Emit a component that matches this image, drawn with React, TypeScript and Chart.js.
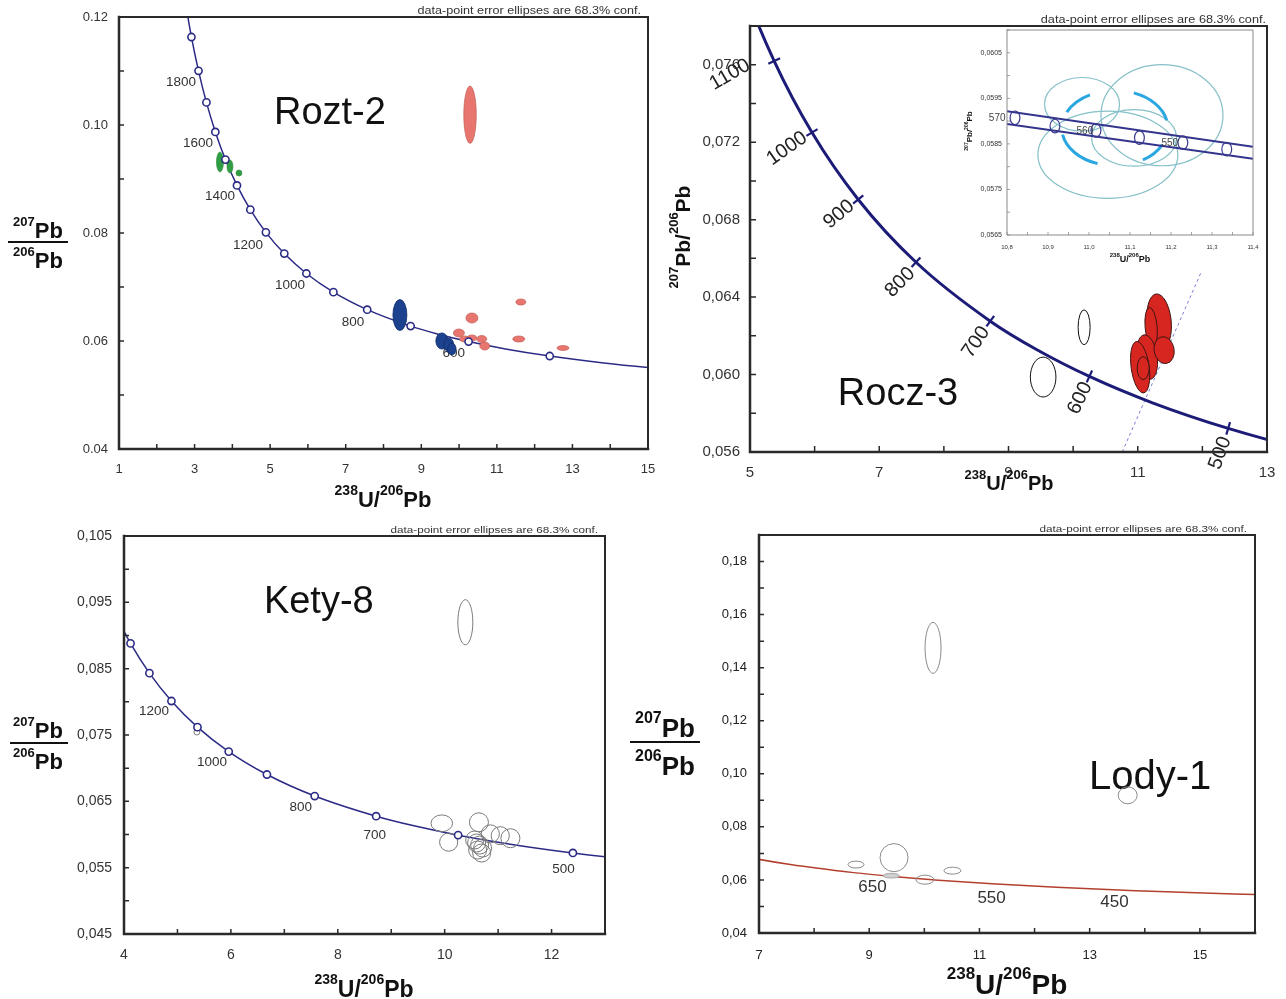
import React, { useEffect, useRef } from 'react';
import { Chart, registerables } from 'chart.js';

Chart.register(...registerables);

const SANS = '"Liberation Sans", Arial, Helvetica, sans-serif';
const NARROW = '"Liberation Sans Narrow", "Liberation Sans", Arial, sans-serif';
const NAVY = '#2b2b86';
const NAVY_DARK = '#1c1c78';
const CONF_TEXT = 'data-point error ellipses are 68.3% conf.';

/* ---------- Concordia reference points (age in Ma) ---------- */
const concAges = [2000, 1900, 1800, 1700, 1600, 1500, 1400, 1300, 1200, 1100, 1000, 900, 800, 700, 650, 600, 550, 500, 450, 400, 380];
const concX = [2.749, 2.9174, 3.1046, 3.3139, 3.5497, 3.817, 4.1227, 4.4756, 4.8875, 5.3746, 5.9593, 6.6743, 7.5684, 8.7182, 9.426, 10.2518, 11.2279, 12.3993, 13.8312, 15.6212, 16.469];
const concY = [0.122987, 0.116293, 0.110036, 0.104186, 0.098715, 0.093597, 0.088807, 0.084323, 0.080122, 0.076187, 0.0725, 0.069042, 0.065799, 0.062756, 0.061306, 0.059901, 0.058539, 0.057219, 0.05594, 0.0547, 0.054216];

/* ---------- Rozt-2 ---------- */
const rozXTicks = ['1', '3', '5', '7', '9', '11', '13', '15'];
const rozYTicks = ['0.04', '0.06', '0.08', '0.10', '0.12'];
const rozMarkerAges = [1900, 1800, 1700, 1600, 1500, 1400, 1300, 1200, 1100, 1000, 900, 800, 700, 600, 500];
const rozAgeText = ['1800', '1600', '1400', '1200', '1000', '800', '600'];
const rozAgeTextX = [2.64, 3.09, 3.672, 4.413, 5.524, 7.19, 9.862];
const rozAgeTextY = [0.10796, 0.0967, 0.08685, 0.07778, 0.07037, 0.06352, 0.05778];
const rozSalmon = [
  { x: 10.29, y: 0.1019, rx: 0.165, ry: 0.0053 },
  { x: 11.635, y: 0.06722, rx: 0.132, ry: 0.00056 },
  { x: 10.34, y: 0.06426, rx: 0.159, ry: 0.00093 },
  { x: 9.995, y: 0.06148, rx: 0.146, ry: 0.00074 },
  { x: 10.15, y: 0.06037, rx: 0.132, ry: 0.00056 },
  { x: 10.34, y: 0.06056, rx: 0.132, ry: 0.00056 },
  { x: 10.6, y: 0.06037, rx: 0.132, ry: 0.00065 },
  { x: 10.68, y: 0.05907, rx: 0.132, ry: 0.00074 },
  { x: 11.58, y: 0.06037, rx: 0.159, ry: 0.00056 },
  { x: 12.75, y: 0.0587, rx: 0.159, ry: 0.00046 },
];
const rozGreen = [
  { x: 3.672, y: 0.09315, rx: 0.093, ry: 0.00185 },
  { x: 3.937, y: 0.09231, rx: 0.079, ry: 0.0012 },
  { x: 4.175, y: 0.09111, rx: 0.079, ry: 0.00056 },
];
const rozBlue = [
  { x: 8.434, y: 0.06481, rx: 0.185, ry: 0.00287 },
  { x: 9.545, y: 0.06, rx: 0.16, ry: 0.0015 },
  { x: 9.73, y: 0.05926, rx: 0.13, ry: 0.0013 },
  { x: 9.81, y: 0.05852, rx: 0.11, ry: 0.0011 },
];

/* ---------- Rocz-3 ---------- */
const roczXTicks = ['5', '7', '9', '11', '13'];
const roczYTicks = ['0,056', '0,060', '0,064', '0,068', '0,072', '0,076'];
const roczTickAges = [1100, 1000, 900, 800, 700, 600, 500];
const roczAgeText = ['1100', '1000', '900', '800', '700', '600', '500'];
const roczAgeTextX = [4.69, 5.573, 6.378, 7.322, 8.498, 10.108, 12.276];
const roczAgeTextY = [0.075485, 0.07167, 0.06827, 0.06476, 0.06167, 0.05878, 0.05595];
const roczAgeTextRot = [-30, -35, -40, -45, -55, -65, -70];
const roczDashX = [10.76, 11.98];
const roczDashY = [0.056, 0.06528];
const roczOpen = [
  { x: 9.536, y: 0.05987, rx: 0.198, ry: 0.00103 },
  { x: 10.17, y: 0.06244, rx: 0.093, ry: 0.0009 },
];
const roczRed = [
  { x: 11.331, y: 0.06275, rx: 0.186, ry: 0.00142, rot: -6 },
  { x: 11.207, y: 0.06244, rx: 0.093, ry: 0.00103, rot: -5 },
  { x: 11.146, y: 0.0609, rx: 0.155, ry: 0.00116, rot: -8 },
  { x: 11.037, y: 0.06038, rx: 0.139, ry: 0.00134, rot: -8 },
  { x: 11.408, y: 0.06126, rx: 0.155, ry: 0.0007, rot: -10 },
  { x: 11.084, y: 0.06033, rx: 0.093, ry: 0.00059 },
];

/* ---------- Rocz-3 inset ---------- */
const insetXTicks = ['10,8', '10,9', '11,0', '11,1', '11,2', '11,3', '11,4'];
const insetYTicks = ['0,0565', '0,0575', '0,0585', '0,0595', '0,0605'];
const insetBandX = [10.8, 11.4];
const insetUpperY = [0.059217, 0.058435];
const insetLowerY = [0.058935, 0.058174];
const insetMarkX = [10.8195, 10.917, 11.017, 11.123, 11.229, 11.336];
const insetMarkY = [0.059072, 0.058891, 0.058797, 0.058637, 0.058528, 0.058384];
const insetAgeText = ['570', '560', '550'];
const insetAgeTextX = [10.776, 10.99, 11.197];
const insetAgeTextY = [0.059065, 0.058783, 0.058522];
const insetTeal = [
  { x: 10.983, y: 0.05937, rx: 0.0915, ry: 0.000587 },
  { x: 11.178, y: 0.05913, rx: 0.1488, ry: 0.00111 },
  { x: 11.046, y: 0.058261, rx: 0.1707, ry: 0.000957 },
  { x: 11.11, y: 0.05863, rx: 0.1037, ry: 0.00062 },
];
const insetMean = [{ x: 11.063, y: 0.058848, rx: 0.1293, ry: 0.000826 }];
const insetMeanArcs = [[205, 242], [291, 348], [109, 170], [26, 58]];

/* ---------- Kety-8 ---------- */
const ketyXTicks = ['4', '6', '8', '10', '12'];
const ketyYTicks = ['0,045', '0,055', '0,065', '0,075', '0,085', '0,095', '0,105'];
const ketyMarkerAges = [1400, 1300, 1200, 1100, 1000, 900, 800, 700, 600, 500];
const ketyAgeText = ['1200', '1000', '800', '700', '500'];
const ketyAgeTextX = [4.561, 5.645, 7.308, 8.692, 12.224];
const ketyAgeTextY = [0.07862, 0.07093, 0.06414, 0.05992, 0.0548];
const ketyEllipses = [
  { x: 10.387, y: 0.092, rx: 0.14, ry: 0.0034 },
  { x: 5.364, y: 0.07545, rx: 0.056, ry: 0.00045 },
  { x: 9.946, y: 0.06169, rx: 0.202, ry: 0.00126 },
  { x: 10.075, y: 0.05885, rx: 0.17, ry: 0.00137 },
  { x: 10.641, y: 0.06184, rx: 0.178, ry: 0.00143 },
  { x: 10.854, y: 0.0601, rx: 0.17, ry: 0.00136 },
  { x: 11.04, y: 0.05982, rx: 0.17, ry: 0.00136 },
  { x: 11.23, y: 0.05944, rx: 0.178, ry: 0.00143 },
  { x: 10.561, y: 0.05917, rx: 0.168, ry: 0.00136 },
  { x: 10.654, y: 0.05841, rx: 0.168, ry: 0.00136 },
  { x: 10.617, y: 0.05766, rx: 0.168, ry: 0.00136 },
  { x: 10.71, y: 0.05796, rx: 0.168, ry: 0.00136 },
  { x: 10.692, y: 0.05721, rx: 0.168, ry: 0.00136 },
  { x: 10.598, y: 0.05872, rx: 0.168, ry: 0.00136 },
];

/* ---------- Lody-1 ---------- */
const lodyXTicks = ['7', '9', '11', '13', '15'];
const lodyYTicks = ['0,04', '0,06', '0,08', '0,10', '0,12', '0,14', '0,16', '0,18'];
const lodyAgeText = ['650', '550', '450'];
const lodyAgeTextX = [9.06, 11.22, 13.45];
const lodyAgeTextY = [0.0571, 0.053, 0.0515];
const lodyOpen = [
  { x: 10.158, y: 0.14745, rx: 0.145, ry: 0.0096 },
  { x: 13.69, y: 0.0919, rx: 0.172, ry: 0.0032 },
  { x: 9.45, y: 0.0684, rx: 0.254, ry: 0.0053 },
  { x: 8.76, y: 0.0658, rx: 0.145, ry: 0.0013 },
  { x: 10.01, y: 0.0601, rx: 0.163, ry: 0.0017 },
  { x: 10.51, y: 0.0635, rx: 0.154, ry: 0.0013 },
];
const lodyFilled = [{ x: 9.4, y: 0.0616, rx: 0.145, ry: 0.0009 }];

/* ---------- helpers ---------- */
type Pt = { x: number; y: number; age?: number };
type Note = { text: string; x: number; y: number; size: number; color?: string; rot?: number; family?: string; align?: CanvasTextAlign; base?: CanvasTextBaseline };
type Rich = { segs: [string, boolean][]; x: number; y: number; size: number; sup: number; rot?: number };
type Deco = {
  frame: string; lwLB: number; lwTR: number; tickLen: number; tickW: number; bg?: string;
  under: Note[]; over: Note[];
  conf?: { size: number; sx: number; dx: number };
  titles: Rich[]; bars: number[][];
};

const conc = (): Pt[] => concAges.map((age, i) => ({ x: concX[i], y: concY[i], age }));
const pickAges = (ages: number[]): Pt[] => ages.map((a) => { const i = concAges.indexOf(a); return { x: concX[i], y: concY[i], age: a }; });
const pts = (xs: number[], ys: number[]): Pt[] => xs.map((x, i) => ({ x, y: ys[i] }));
const notesFrom = (texts: string[], xs: number[], ys: number[], size: number, extra: Partial<Note> = {}, rots?: number[]): Note[] =>
  texts.map((text, i) => ({ text, x: xs[i], y: ys[i], size, rot: rots ? rots[i] : 0, ...extra }));

const ISO: [string, boolean][] = [['207', true], ['Pb', false]];
const ISO2: [string, boolean][] = [['206', true], ['Pb', false]];
const XT: [string, boolean][] = [['238', true], ['U/', false], ['206', true], ['Pb', false]];
const YT: [string, boolean][] = [['207', true], ['Pb/', false], ['206', true], ['Pb', false]];

function labelFor(v: number, labels: string[], step: number) {
  for (const l of labels) {
    if (Math.abs(parseFloat(l.replace(',', '.')) - v) < step * 0.01) return l;
  }
  return '';
}

function axis(min: number, max: number, step: number, labels: string[], size: number, pad: number, fit: { w?: number; h?: number }, family = SANS, color = '#333') {
  return {
    type: 'linear', min, max,
    grid: { display: false, drawTicks: false },
    border: { display: false },
    ticks: {
      stepSize: step, autoSkip: false, maxRotation: 0, minRotation: 0, padding: pad, color,
      font: { family, size },
      callback: (v: any) => labelFor(Number(v), labels, step),
    },
    afterFit: (s: any) => {
      if (fit.w !== undefined) s.width = fit.w;
      if (fit.h !== undefined) s.height = fit.h;
      s.paddingLeft = 0; s.paddingRight = 0; s.paddingTop = 0; s.paddingBottom = 0;
    },
  };
}

function drawRich(ctx: CanvasRenderingContext2D, r: Rich) {
  ctx.save();
  ctx.translate(r.x, r.y);
  if (r.rot) ctx.rotate((r.rot * Math.PI) / 180);
  ctx.fillStyle = '#111';
  ctx.textAlign = 'left';
  ctx.textBaseline = 'alphabetic';
  const fonts = r.segs.map(([, s]) => `bold ${s ? r.sup : r.size}px ${SANS}`);
  const widths = r.segs.map(([t], i) => { ctx.font = fonts[i]; return ctx.measureText(t).width; });
  const total = widths.reduce((a, b) => a + b, 0);
  let cx = -total / 2;
  r.segs.forEach(([t, s], i) => { ctx.font = fonts[i]; ctx.fillText(t, cx, s ? -r.size * 0.55 : 0); cx += widths[i]; });
  ctx.restore();
}

function drawNotes(chart: any, notes: Note[]) {
  const ctx = chart.ctx as CanvasRenderingContext2D;
  const xs = chart.scales.x, ys = chart.scales.y;
  for (const n of notes) {
    ctx.save();
    ctx.translate(xs.getPixelForValue(n.x), ys.getPixelForValue(n.y));
    if (n.rot) ctx.rotate((n.rot * Math.PI) / 180);
    ctx.font = `${n.size}px ${n.family || SANS}`;
    ctx.fillStyle = n.color || '#333';
    ctx.textAlign = n.align || 'center';
    ctx.textBaseline = n.base || 'middle';
    ctx.fillText(n.text, 0, 0);
    ctx.restore();
  }
}

function drawEllipses(chart: any, ds: any) {
  const e = ds && ds.ell;
  if (!e) return;
  const ctx = chart.ctx as CanvasRenderingContext2D;
  const a = chart.chartArea;
  const xs = chart.scales.x, ys = chart.scales.y;
  ctx.save();
  ctx.beginPath();
  ctx.rect(a.left, a.top, a.right - a.left, a.bottom - a.top);
  ctx.clip();
  for (const p of ds.data) {
    const cx = xs.getPixelForValue(p.x), cy = ys.getPixelForValue(p.y);
    const rx = Math.abs(xs.getPixelForValue(p.x + p.rx) - cx);
    const ry = Math.abs(ys.getPixelForValue(p.y + p.ry) - cy);
    const rot = ((p.rot || 0) * Math.PI) / 180;
    if (e.arcs) {
      ctx.lineWidth = e.lw; ctx.strokeStyle = e.stroke; ctx.lineCap = 'butt';
      for (const [s, t] of e.arcs) {
        ctx.beginPath();
        ctx.ellipse(cx, cy, rx, ry, rot, (s * Math.PI) / 180, (t * Math.PI) / 180);
        ctx.stroke();
      }
      continue;
    }
    ctx.beginPath();
    ctx.ellipse(cx, cy, rx, ry, rot, 0, Math.PI * 2);
    if (e.fill) { ctx.fillStyle = e.fill; ctx.fill(); }
    if (e.stroke) { ctx.lineWidth = e.lw; ctx.strokeStyle = e.stroke; ctx.stroke(); }
  }
  ctx.restore();
}

function decoPlugin(d: Deco) {
  return {
    id: 'deco',
    beforeDraw(chart: any) {
      if (!d.bg) return;
      const a = chart.chartArea; const ctx = chart.ctx;
      ctx.save(); ctx.fillStyle = d.bg; ctx.fillRect(a.left, a.top, a.right - a.left, a.bottom - a.top); ctx.restore();
    },
    beforeDatasetsDraw(chart: any) { drawNotes(chart, d.under); },
    afterDatasetDraw(chart: any, args: any) { drawEllipses(chart, chart.data.datasets[args.index]); },
    afterDatasetsDraw(chart: any) { drawNotes(chart, d.over); },
    afterDraw(chart: any) {
      const ctx = chart.ctx as CanvasRenderingContext2D;
      const a = chart.chartArea;
      const xs = chart.scales.x, ys = chart.scales.y;
      ctx.save();
      ctx.strokeStyle = d.frame;
      ctx.lineCap = 'square';
      ctx.lineWidth = d.lwTR;
      ctx.beginPath(); ctx.moveTo(a.left, a.top); ctx.lineTo(a.right, a.top); ctx.lineTo(a.right, a.bottom); ctx.stroke();
      ctx.lineWidth = d.lwLB;
      ctx.beginPath(); ctx.moveTo(a.left, a.top); ctx.lineTo(a.left, a.bottom); ctx.lineTo(a.right, a.bottom); ctx.stroke();
      ctx.lineCap = 'butt';
      ctx.lineWidth = d.tickW;
      ctx.beginPath();
      for (const t of xs.ticks) { const p = xs.getPixelForValue(t.value); ctx.moveTo(p, a.bottom); ctx.lineTo(p, a.bottom - d.tickLen); }
      for (const t of ys.ticks) { const p = ys.getPixelForValue(t.value); ctx.moveTo(a.left, p); ctx.lineTo(a.left + d.tickLen, p); }
      ctx.stroke();
      if (d.conf) {
        ctx.save();
        ctx.translate(a.right - d.conf.dx, a.top - 3);
        ctx.scale(d.conf.sx, 1);
        ctx.font = `${d.conf.size}px ${SANS}`;
        ctx.fillStyle = '#333';
        ctx.textAlign = 'right';
        ctx.textBaseline = 'alphabetic';
        ctx.fillText(CONF_TEXT, 0, 0);
        ctx.restore();
      }
      ctx.strokeStyle = '#111';
      for (const b of d.bars) { ctx.lineWidth = b[4]; ctx.beginPath(); ctx.moveTo(b[0], b[1]); ctx.lineTo(b[2], b[3]); ctx.stroke(); }
      d.titles.forEach((r) => drawRich(ctx, r));
      ctx.restore();
    },
  };
}

function cfg(x: any, y: any, pad: { top: number; right: number }, datasets: any[], deco: Deco) {
  return {
    type: 'line',
    data: { datasets },
    options: {
      responsive: false, maintainAspectRatio: false, animation: false, devicePixelRatio: 1, events: [],
      layout: { padding: { left: 0, top: pad.top, right: pad.right, bottom: 0 } },
      plugins: { legend: { display: false }, tooltip: { enabled: false }, title: { display: false } },
      scales: { x, y },
    },
    plugins: [decoPlugin(deco)],
  };
}

const curveDs = (color: string, width: number) => ({
  data: conc(), borderColor: color, borderWidth: width, pointRadius: 0, pointHoverRadius: 0,
  cubicInterpolationMode: 'monotone', fill: false,
});
const ellDs = (data: any[], ell: any) => ({ data, showLine: false, pointRadius: 0, pointHoverRadius: 0, ell });
const markerDs = (data: Pt[]) => ({
  data, showLine: false, pointRadius: 3.6, pointHoverRadius: 3.6, pointStyle: 'circle',
  pointBackgroundColor: '#ffffff', pointBorderColor: NAVY, pointBorderWidth: 1.6,
});

const tickRotation = (c: any) => {
  const p = c && c.raw;
  if (!p || p.age === undefined) return 0;
  const i = concAges.indexOf(p.age);
  const xs = c.chart.scales.x, ys = c.chart.scales.y;
  const i0 = Math.max(0, i - 1), i1 = Math.min(concAges.length - 1, i + 1);
  const dx = xs.getPixelForValue(concX[i1]) - xs.getPixelForValue(concX[i0]);
  const dy = ys.getPixelForValue(concY[i1]) - ys.getPixelForValue(concY[i0]);
  return (Math.atan2(dy, dx) * 180) / Math.PI + 90;
};

/* ---------- panel configs ---------- */
const rozConfig = () => cfg(
  axis(1, 15, 1, rozXTicks, 13, 13, { h: 66 }),
  axis(0.04, 0.12, 0.01, rozYTicks, 13, 11, { w: 119 }),
  { top: 17, right: 12 },
  [
    markerDs(pickAges(rozMarkerAges)),
    ellDs(rozBlue, { fill: '#1b418f', stroke: '#112d68', lw: 0.8 }),
    ellDs(rozGreen, { fill: '#2f9d43', stroke: '#2a8a3a', lw: 0.6 }),
    ellDs(rozSalmon, { fill: '#e8766e', stroke: '#c05e58', lw: 0.7 }),
    curveDs(NAVY, 1.5),
  ],
  {
    frame: '#2a2a2a', lwLB: 2.5, lwTR: 2, tickLen: 5, tickW: 1.5,
    under: [
      ...notesFrom(rozAgeText, rozAgeTextX, rozAgeTextY, 13.5),
      { text: 'Rozt-2', x: 6.582, y: 0.10019, size: 38, color: '#111', base: 'alphabetic' },
    ],
    over: [],
    conf: { size: 10, sx: 1.26, dx: 7 },
    titles: [
      { segs: XT, x: 383, y: 507, size: 22, sup: 14 },
      { segs: ISO, x: 38, y: 238, size: 22, sup: 13 },
      { segs: ISO2, x: 38, y: 268, size: 22, sup: 13 },
    ],
    bars: [[8, 242, 68, 242, 2]],
  },
);

const roczConfig = () => cfg(
  axis(5, 13, 1, roczXTicks, 15, 12, { h: 48 }),
  axis(0.056, 0.078, 0.002, roczYTicks, 15, 10, { w: 90 }),
  { top: 26, right: 19 },
  [
    {
      data: pickAges(roczTickAges), showLine: false, pointStyle: 'line', pointRadius: 6.5, pointHoverRadius: 6.5,
      pointBorderWidth: 2.2, pointBorderColor: NAVY_DARK, pointBackgroundColor: NAVY_DARK, pointRotation: tickRotation,
    },
    ellDs(roczRed, { fill: '#d6261f', stroke: '#3d1515', lw: 1 }),
    ellDs(roczOpen, { fill: '#ffffff', stroke: '#111111', lw: 1 }),
    curveDs(NAVY_DARK, 3),
    { data: pts(roczDashX, roczDashY), borderColor: '#7c7cd2', borderWidth: 1, borderDash: [3, 3], pointRadius: 0, pointHoverRadius: 0, fill: false },
  ],
  {
    frame: '#2a2a2a', lwLB: 2.5, lwTR: 2, tickLen: 6, tickW: 1.5,
    under: [
      ...notesFrom(roczAgeText, roczAgeTextX, roczAgeTextY, 20, { color: '#222' }, roczAgeTextRot),
      { text: 'Rocz-3', x: 7.291, y: 0.05842, size: 38, color: '#111', base: 'alphabetic' },
    ],
    over: [],
    conf: { size: 10, sx: 1.27, dx: 1 },
    titles: [
      { segs: XT, x: 349, y: 490, size: 20, sup: 13 },
      { segs: YT, x: 30, y: 237, size: 21, sup: 13, rot: -90 },
    ],
    bars: [],
  },
);

const insetConfig = () => cfg(
  axis(10.8, 11.4, 0.05, insetXTicks, 6, 9, { h: 37 }),
  axis(0.0565, 0.061, 0.0005, insetYTicks, 7, 5, { w: 52 }),
  { top: 8, right: 7 },
  [
    ellDs(pts(insetMarkX, insetMarkY).map((p) => ({ ...p, rx: 0.012, ry: 0.00015 })), { stroke: '#3a3a90', lw: 1.2 }),
    { data: pts(insetBandX, insetUpperY), borderColor: '#34348c', borderWidth: 2, pointRadius: 0, pointHoverRadius: 0, fill: false },
    { data: pts(insetBandX, insetLowerY), borderColor: '#34348c', borderWidth: 2, pointRadius: 0, pointHoverRadius: 0, fill: false },
    ellDs(insetMean, { stroke: '#2aa6e0', lw: 3, arcs: insetMeanArcs }),
    ellDs(insetTeal, { stroke: '#86c0c8', lw: 1.2 }),
  ],
  {
    frame: '#8a8a8a', lwLB: 1, lwTR: 1, tickLen: 3, tickW: 0.8, bg: '#ffffff',
    under: [],
    over: notesFrom(insetAgeText, insetAgeTextX, insetAgeTextY, 10, { color: '#444' }),
    titles: [
      { segs: XT, x: 175, y: 240, size: 9, sup: 6 },
      { segs: YT, x: 17, y: 109, size: 8, sup: 5, rot: -90 },
    ],
    bars: [],
  },
);

const ketyConfig = () => cfg(
  axis(4, 13, 1, ketyXTicks, 14, 13, { h: 65 }),
  axis(0.045, 0.105, 0.005, ketyYTicks, 14, 12, { w: 124 }),
  { top: 21, right: 15 },
  [
    markerDs(pickAges(ketyMarkerAges)),
    ellDs(ketyEllipses, { stroke: '#7a7a7a', lw: 1 }),
    curveDs(NAVY, 1.5),
  ],
  {
    frame: '#2a2a2a', lwLB: 2.5, lwTR: 2, tickLen: 5, tickW: 1.5,
    under: [
      ...notesFrom(ketyAgeText, ketyAgeTextX, ketyAgeTextY, 13.5),
      { text: 'Kety-8', x: 7.645, y: 0.09339, size: 38, color: '#111', base: 'alphabetic' },
    ],
    over: [],
    conf: { size: 9.6, sx: 1.22, dx: 7 },
    titles: [
      { segs: XT, x: 364, y: 482, size: 23, sup: 14 },
      { segs: ISO, x: 38, y: 223, size: 22, sup: 13 },
      { segs: ISO2, x: 38, y: 254, size: 22, sup: 13 },
    ],
    bars: [[10, 228, 68, 228, 2]],
  },
);

const lodyConfig = () => cfg(
  axis(7, 16, 1, lodyXTicks, 13, 15, { h: 66 }, NARROW, '#222'),
  axis(0.04, 0.19, 0.01, lodyYTicks, 13, 12, { w: 139 }, NARROW, '#222'),
  { top: 20, right: 31 },
  [
    ellDs(lodyOpen, { stroke: '#8a8a8a', lw: 1 }),
    ellDs(lodyFilled, { fill: '#d0d0d0', stroke: '#a8a8a8', lw: 1 }),
    curveDs('#b3402f', 1.5),
  ],
  {
    frame: '#2a2a2a', lwLB: 2.5, lwTR: 2, tickLen: 5, tickW: 1.5,
    under: [
      ...notesFrom(lodyAgeText, lodyAgeTextX, lodyAgeTextY, 17, { family: NARROW }),
      { text: 'Lody-1', x: 14.096, y: 0.0942, size: 40, color: '#111', base: 'alphabetic' },
    ],
    over: [],
    conf: { size: 9.6, sx: 1.22, dx: 8 },
    titles: [
      { segs: XT, x: 387, y: 479, size: 28, sup: 17 },
      { segs: ISO, x: 45, y: 222, size: 26, sup: 16 },
      { segs: ISO2, x: 45, y: 260, size: 26, sup: 16 },
    ],
    bars: [[10, 227, 80, 227, 2]],
  },
);

function Panel({ left, top, width, height, make, z = 1 }: { left: number; top: number; width: number; height: number; make: () => any; z?: number }) {
  const ref = useRef<HTMLCanvasElement>(null);
  useEffect(() => {
    const chart = new Chart(ref.current as HTMLCanvasElement, make());
    return () => chart.destroy();
  }, []);
  return (
    <canvas
      ref={ref}
      width={width}
      height={height}
      style={{ position: 'absolute', left, top, width, height, zIndex: z }}
    />
  );
}

export default function App() {
  return (
    <div style={{ position: 'absolute', left: 0, top: 0, width: 1286, height: 999, background: '#ffffff', overflow: 'hidden' }}>
      <Panel left={0} top={0} width={660} height={515} make={rozConfig} />
      <Panel left={660} top={0} width={626} height={500} make={roczConfig} />
      <Panel left={955} top={22} width={305} height={250} make={insetConfig} z={2} />
      <Panel left={0} top={515} width={620} height={484} make={ketyConfig} />
      <Panel left={620} top={515} width={666} height={484} make={lodyConfig} />
    </div>
  );
}
